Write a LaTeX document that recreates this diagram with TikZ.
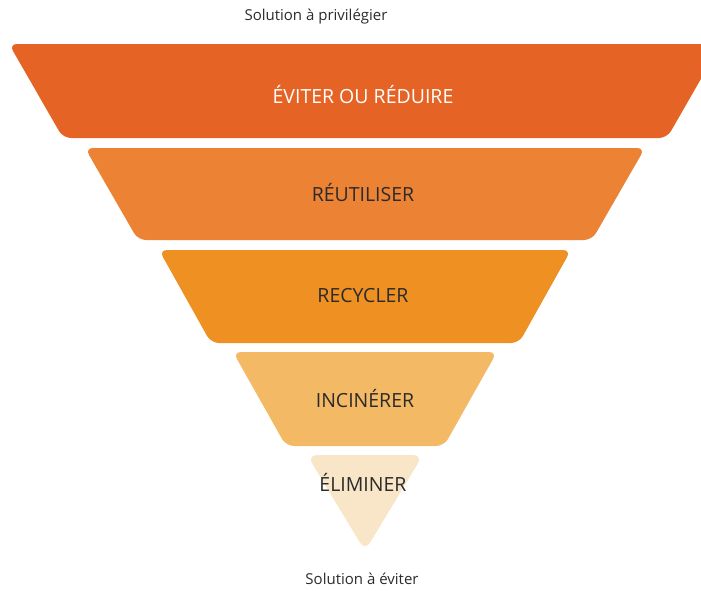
\documentclass[tikz,border=0pt]{standalone}
\usepackage{fontspec}
\setmainfont{Open Sans}
\usepackage{tikz}

\definecolor{avoidfill}{HTML}{E56325}
\definecolor{reusefill}{HTML}{EC8234}
\definecolor{recyclefill}{HTML}{EE9022}
\definecolor{burnfill}{HTML}{F3B964}
\definecolor{dumpfill}{HTML}{F9E6C8}
\definecolor{inktext}{HTML}{2B2B2B}

\begin{document}
\begin{tikzpicture}[
        x=1pt, y=-1pt,
        band/.style={rounded corners=8pt},
        bandtext/.style={font=\fontsize{19.5}{23}\selectfont, text=inktext},
        note/.style={font=\fontsize{15}{18}\selectfont, text=inktext}
    ]
        \clip (0,0) rectangle (701,590);

        % funnel bands, widest on top
        \fill [band, avoidfill] (9,44) -- (721,44) -- (667,138) -- (63,138) -- cycle;
        \fill [band, reusefill] (85,148) -- (645,148) -- (592,240) -- (138,240) -- cycle;
        \fill [band, recyclefill] (159,250) -- (571,250) -- (519,343) -- (211,343) -- cycle;
        \fill [band, burnfill] (233,352) -- (497,352) -- (444,446) -- (286,446) -- cycle;
        \fill [band, rounded corners=10pt, dumpfill] (307,455) -- (423,455) -- (365,551) -- cycle;

        \node [bandtext, text=white] (avoid) at (363,95) {ÉVITER OU RÉDUIRE};
        \node [bandtext] (reuse) at (363,193) {RÉUTILISER};
        \node [bandtext] (recycle) at (363,296) {RECYCLER};
        \node [bandtext] (burn) at (365,399) {INCINÉRER};
        \node [bandtext] (dump) at (363,482) {ÉLIMINER};

        \node [note] (best) at (316,17) {Solution à privilégier};
        \node [note] (worst) at (362,579) {Solution à éviter};
    \end{tikzpicture}
\end{document}
